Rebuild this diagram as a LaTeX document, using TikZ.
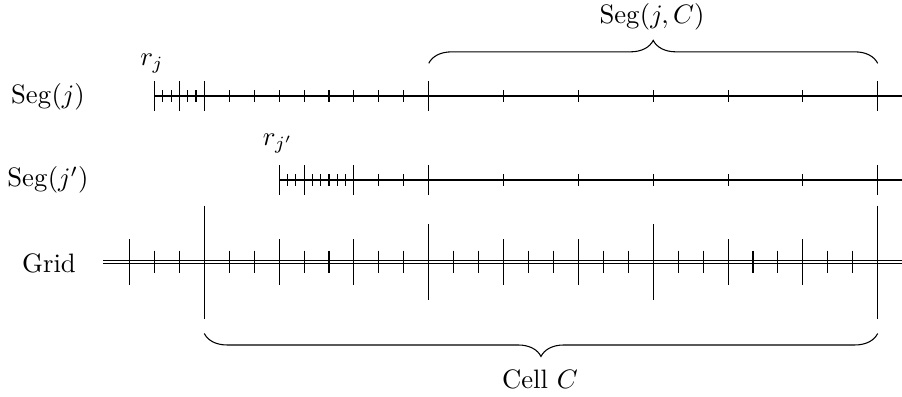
\documentclass[tikz,border=0pt]{standalone}
\usetikzlibrary{decorations.pathreplacing}
\begin{document}
\begin{tikzpicture}[x=0.375pt,y=-0.375pt,
  tick/.style={line width=0.4pt},
  axisline/.style={line width=0.4pt},
  gridline/.style={double,line width=0.4pt,double distance=0.6pt},
  brc/.style={decorate,decoration={brace,amplitude=8.6pt},line width=0.4pt},
  lbl/.style={anchor=base}]
\useasboundingbox (0,0) rectangle (902,396);
\def\oo{204.3}
\def\du{24.94}
% ---------- Grid ----------
\coordinate (gS) at (103.3,262);
\coordinate (gE) at (902,262);
\draw[gridline] (gS) -- (gE);
\foreach \u in {-3,...,27}{
  \pgfmathsetmacro\h{ifthenelse(mod(\u+27,27)==0,56.5,ifthenelse(mod(\u+27,9)==0,37.6,ifthenelse(mod(\u+27,3)==0,22.7,11.4)))}
  \draw[tick] ({\oo+\u*\du},{262-\h}) -- ({\oo+\u*\du},{262+\h});
}
% ---------- Seg(j) ----------
\coordinate (sjS) at ({\oo-2*\du},96);
\coordinate (sjE) at (902,96);
\draw[axisline] (sjS) -- (sjE);
\foreach \u in {-2,-1,0,9,27}{
  \draw[tick] ({\oo+(\u)*\du},81) -- ({\oo+(\u)*\du},111);
}
\foreach \u in {-5/3,-4/3,-2/3,-1/3,1,2,3,4,5,6,7,8,12,15,18,21,24}{
  \draw[tick] ({\oo+(\u)*\du},90) -- ({\oo+(\u)*\du},102);
}
% ---------- Seg(j') ----------
\coordinate (spS) at ({\oo+3*\du},180);
\coordinate (spE) at (902,180);
\draw[axisline] (spS) -- (spE);
\foreach \u in {3,4,6,9,27}{
  \draw[tick] ({\oo+(\u)*\du},165) -- ({\oo+(\u)*\du},195);
}
\foreach \u in {10/3,11/3,13/3,14/3,5,16/3,17/3,7,8,12,15,18,21,24}{
  \draw[tick] ({\oo+(\u)*\du},174) -- ({\oo+(\u)*\du},186);
}
% ---------- labels ----------
\node (lsegj) at (48,96.5) {$\mathrm{Seg}(j)$};
\node (lsegjp) at (48,180) {$\mathrm{Seg}(j')$};
\node (lgrid) at (49,263) {Grid};
\node[lbl] (lrj) at (152,65) {$r_j$};
\node[lbl] (lrjp) at (278,145) {$r_{j'}$};
% ---------- braces ----------
\coordinate (bA) at ({\oo+9*\du},63.3);
\coordinate (bB) at ({\oo+27*\du},63.3);
\draw[brc] (bA) -- (bB);
\node[lbl] (lsegjc) at (652,23.3) {$\mathrm{Seg}(j,C)$};
\coordinate (cA) at ({\oo+27*\du},333.5);
\coordinate (cB) at ({\oo},333.5);
\draw[brc] (cA) -- (cB);
\node[lbl] (lcell) at (540,388.3) {Cell $C$};
\end{tikzpicture}
\end{document}
